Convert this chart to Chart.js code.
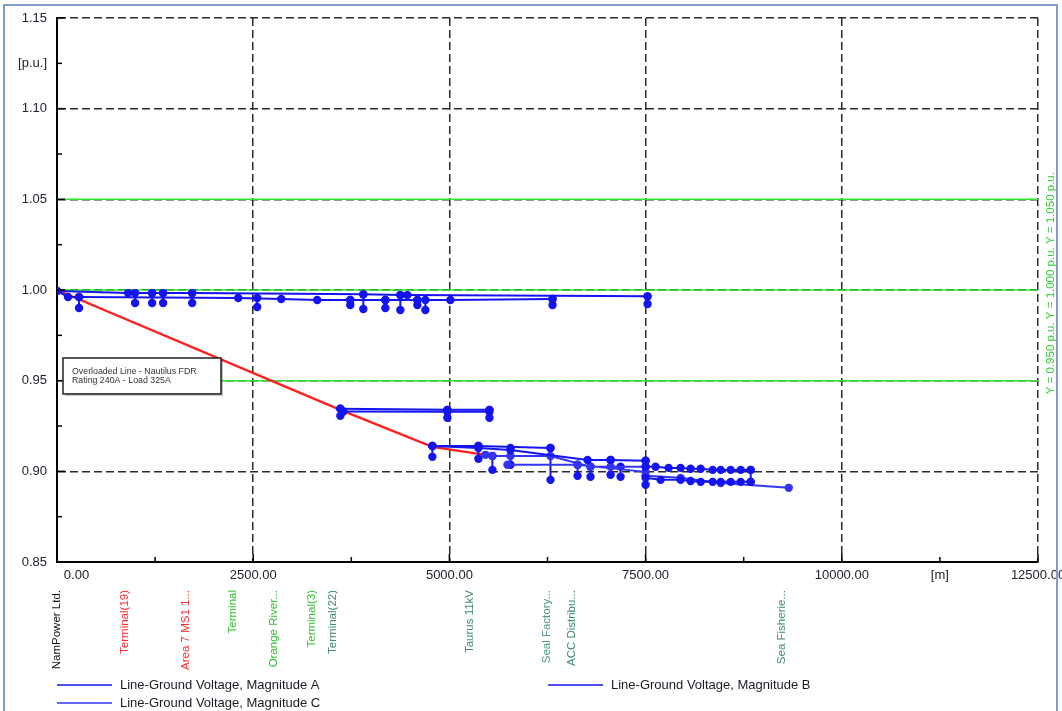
<!DOCTYPE html>
<html>
<head>
<meta charset="utf-8">
<title>Voltage profile - Nautilus feeder</title>
<script src="https://cdn.jsdelivr.net/npm/chart.js@4.4.1/dist/chart.umd.min.js"></script>
<style>
  html, body { margin: 0; padding: 0; background: #fff; overflow: hidden; }
  #wrap { position: relative; width: 1062px; height: 711px; }
  #frame { position: absolute; left: 3px; top: 4px; width: 1055px; height: 707px; box-sizing: border-box;
           border: 2px solid #7f9dd2; border-bottom: none; pointer-events: none; }
</style>
</head>
<body>
<div id="wrap">
  <canvas id="profileChart"></canvas>
  <div id="frame"></div>
</div>
<script>
// ------------------------------------------------------
// data: distance along feeder [m], voltage [p.u.]
// null = break between branches
// ------------------------------------------------------
const xUnitLabel = '[m]';
const yUnitLabel = '[p.u.]';

const stationNames = ['NamPower Ltd.', 'Terminal(19)', 'Area 7 MS1 1...', 'Terminal', 'Orange River...',
                      'Terminal(3)', 'Terminal(22)', 'Taurus 11kV', 'Seal Factory...', 'ACC Distribu...', 'Sea Fisherie...'];
const stationDist = [0, 870, 1645, 2245, 2765, 3250, 3520, 5260, 6245, 6560, 9240];
const stationColors = ['#111111', '#ff2a2a', '#ff2a2a', '#33c433', '#33c433',
                       '#33c433', '#3d8d6c', '#3d8d6c', '#4d9a7a', '#3d8d6c', '#3d8d6c'];

const limitValues = [0.95, 1.00, 1.05];

const overloadDist = [0, 3610, 4783, 5459];
const overloadVolt = [1.0, 0.9339, 0.9135, 0.9091];
const noteLines = ['Overloaded Line - Nautilus FDR', 'Rating 240A - Load 325A'];

const phaseADist = [0, 906, 1212, 1352, 1722, 3903, 4375, 4464, 7525, null,
                    3610, 4974, 5510, null,
                    4783, 5370, 6288, null,
                    7500, 7627, 7793, 7946, 8074, 8202, 8355, 8457, 8584, 8712, 8839];
const phaseAVolt = [0.9995, 0.9983, 0.9983, 0.9983, 0.9983, 0.9976, 0.9972, 0.9972, 0.9965, null,
                    0.9345, 0.9339, 0.9339, null,
                    0.9140, 0.9140, 0.9129, null,
                    0.9025, 0.9025, 0.9019, 0.9019, 0.9014, 0.9014, 0.9008, 0.9008, 0.9008, 0.9008, 0.9008];

const phaseBDist = [0, 140, 281, 2309, 2857, 3316, 3737, 4184, 4592, 5013, 6314, null,
                    3648, 4974, 5510, null,
                    4783, 5370, 5778, 6760, 7054, 7500, null,
                    7500, 7691, 7946, 8074, 8202, 8355, 8457, 8584, 8712, 8839];
const phaseBVolt = [0.9995, 0.9961, 0.9961, 0.9956, 0.9950, 0.9945, 0.9945, 0.9945, 0.9945, 0.9945, 0.9950, null,
                    0.9330, 0.9328, 0.9328, null,
                    0.9140, 0.9129, 0.9118, 0.9063, 0.9063, 0.9058, null,
                    0.8964, 0.8953, 0.8953, 0.8947, 0.8942, 0.8942, 0.8942, 0.8942, 0.8942, 0.8942];

const phaseCDist = [5459, 5548, 5778, 6288, 6798, 7054, 7500, null,
                    5740, 6633, 7500, null,
                    7500, 7946, 8457, 9324];
const phaseCVolt = [0.9091, 0.9085, 0.9085, 0.9085, 0.9025, 0.9025, 0.9025, null,
                    0.9036, 0.9036, 0.8997, null,
                    0.8975, 0.8964, 0.8936, 0.8909];

// short drops (transformers / laterals) hanging under the main lines
const dropDist = [281, 995, 1212, 1352, 1722, 2551, 3737, 3903, 4184, 4375, 4592, 4694, 6314, 7525,
                  3610, 4974, 5510, 4783, 5370, 5548, 5778, 6288, 6633, 6798, 7054, 7181, 7500, 8839];
const dropFrom = [0.9961, 0.9983, 0.9983, 0.9983, 0.9983, 0.9956, 0.9945, 0.9976, 0.9945, 0.9972, 0.9945, 0.9945, 0.9950, 0.9965,
                  0.9345, 0.9339, 0.9339, 0.9140, 0.9140, 0.9085, 0.9129, 0.9129, 0.9036, 0.9025, 0.9063, 0.9025, 0.9058, 0.9008];
const dropTo   = [0.9901, 0.9928, 0.9928, 0.9928, 0.9928, 0.9906, 0.9917, 0.9895, 0.9901, 0.9890, 0.9917, 0.9890, 0.9917, 0.9923,
                  0.9306, 0.9295, 0.9295, 0.9080, 0.9069, 0.9008, 0.9036, 0.8953, 0.8975, 0.8970, 0.8981, 0.8970, 0.8926, 0.8942];

const xMin = 0, xMax = 12500;
const yMin = 0.85, yMax = 1.15;

// ------------------------------------------------------
function toPoints(dist, volt) {
  return dist.map((d, i) => ({ x: d === null ? 0 : d, y: volt[i] }));
}

function dropPoints() {
  const pts = [];
  dropDist.forEach((d, i) => {
    pts.push({ x: d, y: dropFrom[i] }, { x: d, y: dropTo[i] }, { x: d, y: null });
  });
  return pts;
}

const BLUE = '#1414f0';
const BLUE_C = '#3434f7';
const RED = '#ff1f1f';
const GREEN = '#2ee52e';

function phaseSet(label, data, color) {
  return {
    label, data,
    borderColor: color, backgroundColor: color,
    borderWidth: 2, pointRadius: 4.2, pointBorderWidth: 0, pointHoverRadius: 4.2,
    order: 0
  };
}

// ------------------------------------------------------
// decorations: inward ticks, station names, legend, note, limit text
// ------------------------------------------------------
const decorPlugin = {
  id: 'profileDecor',
  afterDraw(chart) {
    const { ctx, chartArea: area, scales: { x, y } } = chart;
    ctx.save();

    // tick marks pointing into the plot
    ctx.strokeStyle = '#000';
    ctx.lineWidth = 1.5;
    x.ticks.forEach(t => {
      const px = x.getPixelForValue(t.value);
      const len = t.value % 2500 === 0 ? 8 : 5;
      ctx.beginPath(); ctx.moveTo(px, area.bottom); ctx.lineTo(px, area.bottom - len); ctx.stroke();
    });
    y.ticks.forEach(t => {
      const py = y.getPixelForValue(t.value);
      const len = Math.round(t.value * 1000) % 50 === 0 ? 8 : 5;
      ctx.beginPath(); ctx.moveTo(area.left, py); ctx.lineTo(area.left + len, py); ctx.stroke();
    });

    // station names under the axis
    ctx.font = '11.5px Arial, "Liberation Sans", sans-serif';
    ctx.textAlign = 'right';
    ctx.textBaseline = 'middle';
    stationNames.forEach((name, i) => {
      ctx.save();
      ctx.translate(x.getPixelForValue(stationDist[i]), area.bottom + 28);
      ctx.rotate(-Math.PI / 2);
      ctx.fillStyle = stationColors[i];
      ctx.fillText(name, 0, 0);
      ctx.restore();
    });

    // legend (two columns)
    const ds = chart.data.datasets;
    const items = [
      { set: ds[0], col: area.left, row: area.bottom + 123 },
      { set: ds[1], col: 548, row: area.bottom + 123 },
      { set: ds[2], col: area.left, row: area.bottom + 141 }
    ];
    ctx.font = '13px Arial, "Liberation Sans", sans-serif';
    ctx.textAlign = 'left';
    items.forEach(it => {
      ctx.strokeStyle = it.set.borderColor;
      ctx.lineWidth = 1.5;
      ctx.beginPath(); ctx.moveTo(it.col, it.row); ctx.lineTo(it.col + 55, it.row); ctx.stroke();
      ctx.fillStyle = '#1a1a24';
      ctx.fillText(it.set.label, it.col + 63, it.row);
    });

    // note box
    const bx = area.left + 6;
    const by = y.getPixelForValue(0.9625);
    const bh = y.getPixelForValue(0.9427) - by;
    const bw = 158;
    ctx.fillStyle = 'rgba(0,0,0,0.25)';
    ctx.fillRect(bx + 2, by + 2, bw, bh);
    ctx.fillStyle = '#fff';
    ctx.fillRect(bx, by, bw, bh);
    ctx.strokeStyle = '#222';
    ctx.lineWidth = 1.5;
    ctx.strokeRect(bx, by, bw, bh);
    ctx.fillStyle = '#333';
    ctx.font = '8.8px Arial, "Liberation Sans", sans-serif';
    ctx.fillText(noteLines[0], bx + 9, by + 14);
    ctx.fillText(noteLines[1], bx + 9, by + 23);

    // limit text on the right
    ctx.save();
    ctx.translate(area.right + 13, y.getPixelForValue(0.9425));
    ctx.rotate(-Math.PI / 2);
    ctx.fillStyle = '#33cc33';
    ctx.font = '11.5px Arial, "Liberation Sans", sans-serif';
    ctx.fillText(limitValues.map(v => `Y = ${v.toFixed(3)} p.u.`).join(' '), 0, 0);
    ctx.restore();

    ctx.restore();
  }
};

// ------------------------------------------------------
Chart.defaults.font.family = 'Arial, "Liberation Sans", sans-serif';

const ctx = document.getElementById('profileChart').getContext('2d');

new Chart(ctx, {
  type: 'line',
  data: {
    datasets: [
      phaseSet('Line-Ground Voltage, Magnitude A', toPoints(phaseADist, phaseAVolt), BLUE),
      phaseSet('Line-Ground Voltage, Magnitude B', toPoints(phaseBDist, phaseBVolt), BLUE),
      phaseSet('Line-Ground Voltage, Magnitude C', toPoints(phaseCDist, phaseCVolt), BLUE_C),
      phaseSet('drops', dropPoints(), BLUE),
      {
        label: 'overloaded line',
        data: toPoints(overloadDist, overloadVolt),
        borderColor: RED, borderWidth: 2.4, pointRadius: 0, order: 1
      },
      ...limitValues.map(v => ({
        label: 'limit ' + v,
        data: [{ x: xMin, y: v }, { x: xMax, y: v }],
        borderColor: GREEN, borderWidth: 1.5, pointRadius: 0, order: 2
      }))
    ]
  },
  options: {
    responsive: true,
    maintainAspectRatio: false,
    animation: false,
    spanGaps: false,
    layout: { padding: { top: 18, right: 24, left: 0, bottom: 0 } },
    elements: { line: { tension: 0 } },
    plugins: {
      legend: { display: false },
      tooltip: { enabled: false }
    },
    scales: {
      x: {
        type: 'linear',
        min: xMin, max: xMax,
        ticks: {
          stepSize: 1250,
          autoSkip: false,
          maxRotation: 0,
          padding: 6,
          color: '#22222e',
          font: { size: 13 },
          callback: v => {
            if (v === 11250) return xUnitLabel;
            if (v % 2500 !== 0) return '';
            return v === 0 ? '\u2002'.repeat(6) + '0.00' : v.toFixed(2);
          }
        },
        grid: {
          drawTicks: false,
          lineWidth: 1.5,
          color: c => (c.tick && c.tick.value % 2500 === 0 && c.tick.value > 0) ? '#2b2b2b' : 'transparent'
        },
        border: { color: '#000', width: 2, dash: [8, 4] },
        afterFit: s => { s.height = 149; s.paddingLeft = 0; s.paddingRight = 0; }
      },
      y: {
        type: 'linear',
        min: yMin, max: yMax,
        ticks: {
          stepSize: 0.025,
          autoSkip: false,
          padding: 10,
          color: '#22222e',
          font: { size: 13 },
          callback: v => {
            const k = Math.round(v * 1000);
            if (k === 1125) return yUnitLabel;
            return k % 50 === 0 ? (k / 1000).toFixed(2) : '';
          }
        },
        grid: {
          drawTicks: false,
          lineWidth: 1.5,
          color: c => {
            if (!c.tick) return 'transparent';
            const k = Math.round(c.tick.value * 1000);
            return (k % 50 === 0 && k > 850) ? '#2b2b2b' : 'transparent';
          }
        },
        border: { color: '#000', width: 2, dash: [8, 4] },
        afterFit: s => { s.width = 57; }
      }
    }
  },
  plugins: [decorPlugin]
});
</script>
</body>
</html>
